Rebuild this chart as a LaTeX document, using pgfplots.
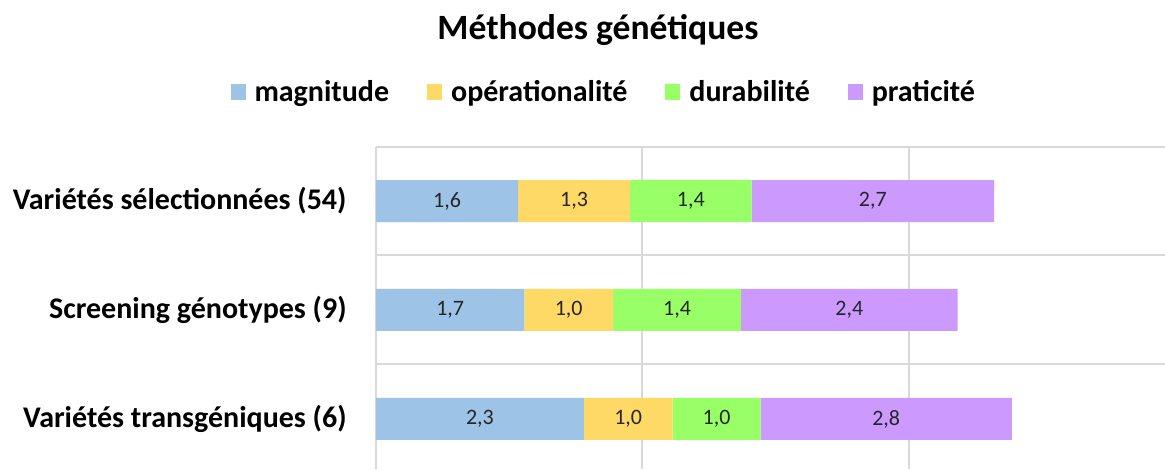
\documentclass[border=0pt]{standalone}
\usepackage{pgfplots}
\pgfplotsset{compat=1.18}
\usepackage{pgfplotstable}
\usepackage{fontspec}
\setmainfont{Carlito}
\definecolor{cM}{HTML}{9DC3E6}
\definecolor{cO}{HTML}{FFD966}
\definecolor{cD}{HTML}{99FF66}
\definecolor{cP}{HTML}{CC99FF}
\definecolor{gridc}{HTML}{D9D9D9}
\definecolor{lab}{HTML}{262626}
\pgfplotstableread{
y m o d p
0 2.34 1.00 0.99 2.83
1 1.67 1.00 1.44 2.44
2 1.60 1.26 1.37 2.73
}\datatable
\begin{document}
\begin{tikzpicture}
\begin{axis}[
  name=ax,
  scale only axis,
  width=394.5pt, height=161.25pt,
  xbar stacked, bar width=21pt,
  xmin=0, xmax=8.885, ymin=-0.459, ymax=2.5,
  xtick={0,3,6}, xticklabels={}, xmajorgrids,
  ytick={0,1,2},
  yticklabels={Variétés transgéniques (6), Screening génotypes (9), Variétés sélectionnées (54)},
  minor ytick={0.5,1.5,2.5}, yminorgrids,
  major tick length=0pt, minor tick length=0pt,
  axis line style={draw=none},
  grid style={draw=gridc, line width=1pt},
  minor grid style={draw=gridc, line width=1pt},
  yticklabel style={font=\fontsize{15}{18}\selectfont\bfseries, inner sep=0pt, xshift=-14.5pt},
  point meta=rawx,
  nodes near coords={\pgfmathprintnumber[fixed,fixed zerofill,precision=1,use comma,assume math mode=true]{\pgfplotspointmeta}},
  every node near coord/.append style={font=\fontsize{11}{13}\selectfont, text=lab, anchor=center},
  legend columns=4,
  legend style={at={(0.29,1.168)}, anchor=center, draw=none, fill=none,
    font=\fontsize{15}{18}\selectfont\bfseries,
    /tikz/every even column/.append style={column sep=17pt}},
  legend image code/.code={\fill[#1] (0pt,-4pt) rectangle (7.5pt,4pt); \path (10pt,0pt);},
]
\addplot[fill=cM, draw=none] table[x=m, y=y] {\datatable};
\addplot[fill=cO, draw=none] table[x=o, y=y] {\datatable};
\addplot[fill=cD, draw=none] table[x=d, y=y] {\datatable};
\addplot[fill=cP, draw=none] table[x=p, y=y] {\datatable};
\legend{magnitude, opérationalité, durabilité, praticité}
\end{axis}
\node[font=\fontsize{17.8}{21}\selectfont\bfseries] at ([xshift=111pt,yshift=58.25pt]ax.north west) {Méthodes génétiques};
\pgfresetboundingbox
\path ([xshift=-188pt]ax.south west) rectangle ([yshift=73.25pt]ax.north east);
\end{tikzpicture}
\end{document}
